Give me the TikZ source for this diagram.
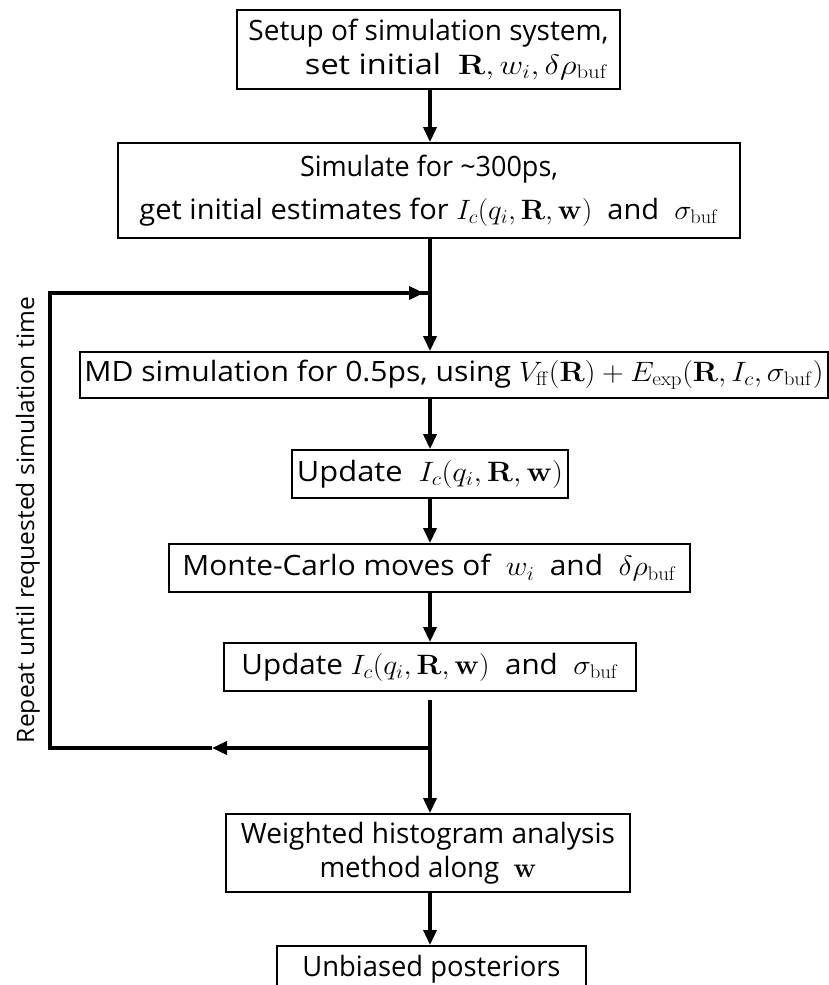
\documentclass[tikz,border=0pt]{standalone}
\usepackage{fix-cm}
\usepackage[no-math]{fontspec}
\setmainfont{Open Sans}
\usepackage{graphicx}
\usetikzlibrary{arrows.meta}
\tikzset{
  stepbox/.style={draw, line width=1.8pt, inner sep=0pt, align=center, font=\fontsize{28}{34}\selectfont},
  flow/.style={line width=3.4pt, -{Triangle[length=15pt,width=13pt]}},
  plain/.style={line width=3.4pt},
}
\newcommand{\hfit}[2]{\resizebox{#1}{\height}{#2}}
\begin{document}
\begin{tikzpicture}[x=1pt,y=-1pt]
\useasboundingbox (0,0) rectangle (829,985);
\begin{scope}
\clip (0,0) rectangle (829,985);
\node[stepbox, minimum width=383pt, minimum height=79pt] (b1) at (428.5,49.5)
  {\hfit{360pt}{Setup of simulation system,}\\ \hspace*{56pt}\hfit{303pt}{set initial \ $\mathbf{R},w_i,\delta\rho_{\mathrm{buf}}$}};
\node[stepbox, minimum width=622pt, minimum height=95pt] (b2) at (429,190.5)
  {\hfit{258pt}{Simulate for \textasciitilde300ps,}\\[9pt] \hfit{579pt}{get initial estimates for $I_c(q_i,\mathbf{R},\mathbf{w})$ \ and \ $\sigma_{\mathrm{buf}}$}};
\node[stepbox, minimum width=748pt, minimum height=46pt] (md) at (454,375)
  {\hfit{739pt}{MD simulation for 0.5ps, using $V_{\mathrm{ff}}(\mathbf{R})+E_{\mathrm{exp}}(\mathbf{R},I_c,\sigma_{\mathrm{buf}})$}};
\node[stepbox, minimum width=276pt, minimum height=48pt] (u1) at (430,474)
  {\hfit{266pt}{Update \ $I_c(q_i,\mathbf{R},\mathbf{w})$}};
\node[stepbox, minimum width=521pt, minimum height=48pt] (mc) at (429.5,568)
  {\hfit{494pt}{Monte-Carlo moves of \ $w_i$ \ and \ $\delta\rho_{\mathrm{buf}}$}};
\node[stepbox, minimum width=412pt, minimum height=48pt] (u2) at (430,667)
  {\hfit{377pt}{Update $I_c(q_i,\mathbf{R},\mathbf{w})$ \ and \ $\sigma_{\mathrm{buf}}$}};
\node[stepbox, minimum width=404pt, minimum height=78pt] (wh) at (428,853)
  {\hfit{374pt}{Weighted histogram analysis}\\ \hfit{217pt}{method along \ $\mathbf{w}$}};
\node[stepbox, minimum width=309pt, minimum height=46pt, anchor=north] (ub) at (431.5,945)
  {\hfit{258pt}{Unbiased posteriors}};
\end{scope}
\node[rotate=90, inner sep=0pt, font=\fontsize{24}{30}\selectfont] (rep) at (28,520) {\hfit{446pt}{Repeat until requested simulation time}};
\coordinate (jt) at (430,293);
\coordinate (jb) at (430,748);
\coordinate (tl) at (50,293);
\coordinate (bl) at (50,748);
\coordinate (mid) at (212,748);
\draw[flow] (b1.south -| jt) -- (b2.north -| jt);
\draw[plain] (b2.south -| jt) -- (jt);
\draw[flow] (jt) -- (md.north -| jt);
\draw[flow] (md.south -| u1) -- (u1);
\draw[flow] (u1) -- (mc.north -| u1);
\draw[flow] (mc.south -| u2) -- (u2);
\draw[plain] ([yshift=-8pt]u2.south) -- (jb);
\draw[flow] (jb) -- (wh.north -| jb);
\draw[flow] (wh.south -| jb) -- (ub.north -| jb);
\draw[flow] (jb) -- (mid);
\draw[plain] (mid) -- (bl) -- (tl) -- (jt);
\draw[flow] (tl) -- ([xshift=-6pt]jt);
\end{tikzpicture}
\end{document}
